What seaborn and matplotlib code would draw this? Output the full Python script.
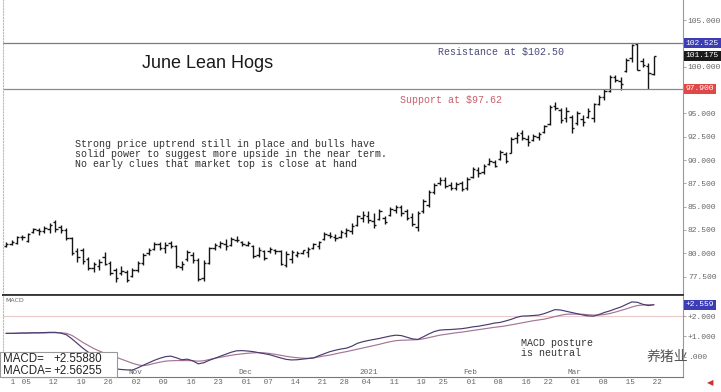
import numpy as np
import pandas as pd
import matplotlib
matplotlib.use('Agg')
import matplotlib.pyplot as plt
import matplotlib.transforms as mtransforms
from matplotlib.patches import Rectangle
import seaborn as sns

# ---- data ----
highs = [81.2, 81.4, 81.9, 82.0, 82.2, 82.7, 82.7, 82.9, 83.2, 83.6,
         83.0, 82.7, 81.8, 80.6, 80.6, 79.6, 79.1, 79.4, 80.1, 79.2,
         78.4, 78.6, 78.2, 78.4, 79.2, 80.0, 80.6, 81.2, 81.2, 81.2,
         81.3, 80.9, 79.2, 80.3, 80.1, 79.5, 79.3, 80.7, 81.1, 81.3,
         81.5, 81.7, 81.9, 81.3, 81.3, 80.9, 80.7, 80.4, 80.7, 80.5,
         80.4, 80.2, 80.4, 80.2, 80.4, 80.7, 81.1, 81.3, 82.3, 82.3,
         82.1, 82.5, 82.7, 83.2, 84.1, 84.5, 84.5, 84.3, 84.7, 84.0,
         85.0, 85.2, 85.2, 84.7, 84.3, 84.5, 85.8, 86.8, 87.5, 88.2,
         88.2, 87.6, 87.6, 87.8, 88.2, 89.3, 89.3, 89.6, 90.2, 90.0,
         91.1, 90.9, 92.5, 93.0, 93.2, 92.7, 92.8, 93.0, 93.8, 95.9,
         96.2, 95.6, 95.7, 94.8, 95.3, 94.8, 95.6, 96.1, 97.0, 97.6,
         99.1, 99.1, 98.9, 100.9, 102.45, 102.5, 100.9, 100.4, 101.2]
lows = [80.7, 80.9, 81.0, 81.4, 81.2, 82.2, 82.0, 82.2, 82.2, 82.3,
        82.2, 81.4, 79.8, 79.1, 78.9, 78.2, 78.0, 78.2, 78.7, 77.7,
        76.9, 77.7, 76.9, 77.5, 78.0, 78.7, 79.8, 80.3, 80.3, 80.0,
        80.6, 78.4, 78.2, 79.2, 79.0, 77.0, 77.0, 78.9, 80.4, 80.6,
        80.4, 80.8, 81.2, 80.8, 80.8, 79.5, 79.6, 79.3, 80.0, 79.9,
        78.7, 78.5, 79.0, 79.6, 79.9, 79.6, 80.5, 80.5, 81.4, 81.6,
        81.3, 81.6, 81.8, 82.1, 82.9, 83.4, 83.2, 82.7, 83.6, 83.1,
        84.0, 84.3, 84.0, 83.6, 82.9, 82.4, 84.3, 85.0, 86.4, 87.3,
        87.0, 86.8, 86.8, 86.7, 86.8, 88.1, 88.2, 88.5, 89.5, 89.2,
        90.0, 89.7, 90.7, 91.8, 92.1, 91.5, 92.0, 92.1, 92.9, 93.8,
        95.4, 94.0, 94.1, 92.9, 93.8, 93.6, 94.5, 94.1, 95.9, 96.4,
        97.3, 98.4, 97.5, 99.4, 100.5, 99.6, 100.0, 97.6, 99.1]
opens = [80.8, 81.0, 81.1, 81.7, 81.3, 82.3, 82.5, 82.4, 82.6, 83.4,
         82.8, 82.5, 81.6, 80.2, 80.4, 79.4, 78.4, 78.6, 79.6, 79.0,
         78.2, 77.9, 78.0, 77.6, 78.2, 79.0, 80.0, 80.5, 81.0, 80.6,
         81.1, 80.8, 78.5, 79.4, 79.8, 79.3, 77.3, 79.0, 80.6, 80.8,
         81.0, 80.9, 81.4, 81.2, 80.9, 80.8, 79.8, 80.2, 80.2, 80.3,
         80.2, 78.7, 79.4, 79.8, 80.0, 80.1, 80.6, 80.8, 81.5, 82.0,
         81.7, 81.8, 82.2, 82.4, 83.0, 83.8, 84.0, 83.5, 83.7, 83.8,
         84.1, 84.6, 85.0, 84.5, 83.9, 82.8, 84.5, 85.2, 86.6, 87.5,
         87.9, 87.3, 87.0, 87.5, 87.0, 88.2, 88.9, 88.7, 89.6, 89.8,
         90.1, 90.6, 90.8, 92.4, 92.9, 92.3, 92.1, 92.5, 93.0, 93.9,
         95.8, 95.4, 94.5, 94.6, 94.0, 94.4, 94.6, 94.5, 96.0, 96.7,
         97.4, 98.9, 98.5, 99.5, 100.9, 102.4, 100.6, 100.1, 99.2]
closes = [81.0, 81.2, 81.7, 81.8, 82.1, 82.6, 82.4, 82.7, 83.0, 82.6,
          82.5, 81.6, 80.0, 79.6, 79.2, 78.4, 78.8, 79.1, 78.9, 77.9,
          77.3, 78.1, 77.1, 78.2, 79.0, 79.8, 80.4, 81.0, 80.6, 80.9,
          80.8, 78.6, 78.8, 80.1, 79.3, 77.2, 79.0, 80.6, 80.9, 81.1,
          80.8, 81.5, 81.4, 81.0, 81.1, 79.7, 80.3, 79.5, 80.5, 80.2,
          78.9, 79.9, 80.1, 80.0, 80.3, 80.5, 81.0, 81.2, 82.1, 81.9,
          81.6, 82.3, 82.5, 82.9, 84.0, 84.1, 83.6, 83.0, 84.5, 83.4,
          84.8, 85.0, 84.3, 83.8, 83.1, 84.3, 85.6, 86.6, 87.3, 87.9,
          87.2, 87.0, 87.4, 86.9, 88.0, 89.0, 88.6, 89.4, 89.9, 89.4,
          90.9, 89.9, 92.2, 92.7, 92.4, 91.9, 92.6, 92.8, 93.6, 95.7,
          95.6, 94.3, 95.2, 93.4, 95.0, 94.1, 95.3, 96.0, 96.8, 97.4,
          98.9, 98.6, 98.1, 100.7, 102.3, 99.7, 100.2, 99.3, 101.175]

macd = [1.15, 1.15, 1.16, 1.17, 1.17, 1.18, 1.18, 1.19, 1.20, 1.20,
        1.16, 1.08, 0.88, 0.65, 0.42, 0.22, 0.02, -0.18, -0.35, -0.50,
        -0.60, -0.63, -0.65, -0.66, -0.55, -0.42, -0.30, -0.18, -0.08, 0.00,
        0.03, -0.05, -0.15, -0.12, -0.20, -0.35, -0.30, -0.18, -0.08, 0.02,
        0.12, 0.22, 0.29, 0.30, 0.28, 0.25, 0.20, 0.15, 0.10, 0.02,
        -0.06, -0.13, -0.16, -0.15, -0.12, -0.09, -0.06, 0.05, 0.15, 0.25,
        0.32, 0.38, 0.42, 0.52, 0.66, 0.74, 0.80, 0.85, 0.90, 0.96,
        1.02, 1.06, 1.04, 0.96, 0.88, 0.85, 0.98, 1.12, 1.24, 1.31,
        1.33, 1.34, 1.36, 1.38, 1.42, 1.47, 1.50, 1.55, 1.60, 1.66,
        1.69, 1.76, 1.84, 1.94, 2.00, 2.01, 2.03, 2.05, 2.12, 2.22,
        2.32, 2.30, 2.24, 2.18, 2.12, 2.06, 2.01, 2.00, 2.08, 2.18,
        2.26, 2.36, 2.45, 2.58, 2.70, 2.68, 2.58, 2.52, 2.5588]
macda = [1.15, 1.15, 1.15, 1.16, 1.16, 1.17, 1.17, 1.17, 1.18, 1.18,
         1.18, 1.15, 1.05, 0.88, 0.70, 0.55, 0.40, 0.28, 0.17, 0.08,
         -0.02, -0.12, -0.22, -0.32, -0.40, -0.44, -0.40, -0.33, -0.27, -0.22,
         -0.20, -0.19, -0.19, -0.19, -0.20, -0.22, -0.20, -0.14, -0.08, -0.03,
         0.02, 0.07, 0.11, 0.14, 0.17, 0.19, 0.20, 0.19, 0.16, 0.12,
         0.07, 0.02, -0.02, -0.05, -0.07, -0.08, -0.06, -0.01, 0.04, 0.08,
         0.14, 0.20, 0.25, 0.31, 0.37, 0.43, 0.49, 0.55, 0.61, 0.68,
         0.74, 0.79, 0.81, 0.82, 0.83, 0.84, 0.88, 0.94, 1.00, 1.06,
         1.10, 1.14, 1.18, 1.21, 1.25, 1.29, 1.33, 1.37, 1.41, 1.45,
         1.48, 1.52, 1.57, 1.62, 1.67, 1.72, 1.77, 1.81, 1.85, 1.91,
         1.98, 2.04, 2.09, 2.10, 2.10, 2.09, 2.07, 2.05, 2.05, 2.08,
         2.13, 2.20, 2.28, 2.36, 2.45, 2.52, 2.55, 2.56, 2.56255]

holidays = ['2020-11-26', '2020-12-25', '2021-01-01', '2021-01-18', '2021-02-15']
tick_dates = ['2020-10-01', '2020-10-05', '2020-10-12', '2020-10-19', '2020-10-26',
              '2020-11-02', '2020-11-09', '2020-11-16', '2020-11-23', '2020-12-01',
              '2020-12-07', '2020-12-14', '2020-12-21', '2020-12-28', '2021-01-04',
              '2021-01-11', '2021-01-19', '2021-01-25', '2021-02-01', '2021-02-08',
              '2021-02-16', '2021-02-22', '2021-03-01', '2021-03-08', '2021-03-15',
              '2021-03-22']
tick_labels = ['1', '05', '12', '19', '26', '02', '09', '16', '23', '01', '07', '14',
               '21', '28', '04', '11', '19', '25', '01', '08', '16', '22', '01', '08',
               '15', '22']
month_dates = ['2020-11-02', '2020-12-01', '2021-01-04', '2021-02-01', '2021-03-01']
month_labels = ['Nov', 'Dec', '2021', 'Feb', 'Mar']
price_ticks = [77.5, 80.0, 82.5, 85.0, 87.5, 90.0, 92.5, 95.0, 100.0, 105.0]
macd_ticks = [0.0, 1.0, 2.0]
macd_tick_labels = ['.000', '+1.000', '+2.000']
resistance = 102.50
support = 97.62
last_price = 101.175

days = pd.bdate_range('2020-10-01', '2021-03-23', freq='C', holidays=holidays)
df = pd.DataFrame({'date': days, 'open': opens, 'high': highs, 'low': lows,
                   'close': closes, 'macd': macd, 'macda': macda})
df['idx'] = np.arange(len(df))
pos = {d: i for i, d in enumerate(df['date'])}
tick_idx = [pos[pd.Timestamp(d)] for d in tick_dates]
month_idx = [pos[pd.Timestamp(d)] for d in month_dates]

sns.set_style('white')
plt.rcParams['font.family'] = ['DejaVu Sans', 'Noto Sans CJK SC']

W, H = 721, 392
fig = plt.figure(figsize=(W / 100, H / 100), dpi=100)

def fx(px):
    return px / W

def fy(py):
    return 1 - py / H

ax = fig.add_axes([fx(3), fy(295), fx(680), 295 / H])
ax2 = fig.add_axes([fx(3), fy(377), fx(680), 82 / H])

xlim = (-0.55, 123.3)
gray = '#666666'
mono = 'Liberation Mono'
note_size = 7.2

# ---- price bars ----
x = df['idx'].values
ax.vlines(x, df['low'], df['high'], color='#151515', lw=1.0)
ax.hlines(df['open'], x - 0.45, x, color='#151515', lw=1.0)
ax.hlines(df['close'], x, x + 0.45, color='#151515', lw=1.0)
ax.axhline(resistance, color='#7a7a7a', lw=0.9)
ax.axhline(support, color='#8a8a8a', lw=0.9)
ax.set_xlim(*xlim)
ax.set_ylim(75.53, 107.15)
ax.set_xticks([])
ax.yaxis.tick_right()
ax.set_yticks(price_ticks)
ax.set_yticklabels([f'{v:.3f}' for v in price_ticks], fontsize=5.8, color=gray,
                   family=mono)
ax.tick_params(axis='y', length=2, width=0.6, color='#999999', pad=1.5)
ax.spines['top'].set_visible(False)
ax.spines['left'].set_color('#bbbbbb')
ax.spines['left'].set_linestyle(':')
ax.spines['right'].set_color('#999999')
ax.spines['bottom'].set_color('#333333')
ax.spines['bottom'].set_linewidth(1.3)

bt = mtransforms.blended_transform_factory(ax.transAxes, ax.transData)
ax.text(1.004, resistance, '102.525', transform=bt, fontsize=5.8, family=mono,
        color='white', va='center', ha='left',
        bbox=dict(boxstyle='square,pad=0.2', fc='#3c3cb4', ec='none'))
ax.text(1.004, last_price, '101.175', transform=bt, fontsize=5.8, family=mono,
        color='white', va='center', ha='left',
        bbox=dict(boxstyle='square,pad=0.2', fc='#1a1a1a', ec='none'))
ax.text(1.004, support, '97.900', transform=bt, fontsize=5.8, family=mono,
        color='white', va='center', ha='left',
        bbox=dict(boxstyle='square,pad=0.2', fc='#e04848', ec='none'))

# ---- MACD panel ----
ax2.axhline(2.0, color='#e8caca', lw=0.8)
sns.lineplot(data=df, x='idx', y='macda', ax=ax2, color='#a57595', lw=0.85)
sns.lineplot(data=df, x='idx', y='macd', ax=ax2, color='#4a3a6e', lw=0.85)
ax2.set_xlim(*xlim)
ax2.set_ylim(-1.0, 3.04)
ax2.set_xlabel('')
ax2.set_ylabel('')
ax2.yaxis.tick_right()
ax2.set_yticks(macd_ticks)
ax2.set_yticklabels(macd_tick_labels, fontsize=5.8, color=gray, family=mono)
ax2.tick_params(axis='y', length=2, width=0.6, color='#999999', pad=1.5)
ax2.set_xticks(tick_idx)
ax2.set_xticklabels([' ' + t for t in tick_labels], fontsize=5.5, color=gray,
                    family=mono, ha='left')
ax2.tick_params(axis='x', length=7, width=0.6, color='#888888', pad=-5.5,
                direction='out')
ax2.spines['top'].set_color('#333333')
ax2.spines['top'].set_linewidth(1.3)
ax2.spines['left'].set_color('#bbbbbb')
ax2.spines['left'].set_linestyle(':')
ax2.spines['right'].set_color('#999999')
ax2.spines['bottom'].set_color('#777777')
bt2 = mtransforms.blended_transform_factory(ax2.transData, ax2.transAxes)
for mi, ml in zip(month_idx, month_labels):
    ax2.text(mi + 0.3, 0.01, ml, transform=bt2, fontsize=5.5, color=gray,
             family=mono, ha='left', va='bottom')
bt3 = mtransforms.blended_transform_factory(ax2.transAxes, ax2.transData)
ax2.text(1.004, macd[-1], '+2.559', transform=bt3, fontsize=5.8, family=mono,
         color='white', va='center', ha='left',
         bbox=dict(boxstyle='square,pad=0.2', fc='#3c3cb4', ec='none'))
ax2.text(0.003, 0.93, 'MACD', transform=ax2.transAxes, fontsize=4.5,
         color=gray, va='center', ha='left')

# ---- annotations ----
fig.text(fx(208), fy(64), 'June Lean Hogs', fontsize=13, family='Liberation Sans',
         ha='center', va='center', color='#1a1a1a')
fig.text(fx(438), fy(52), 'Resistance at $102.50', fontsize=note_size, family=mono,
         color='#4a4a7a', va='center')
fig.text(fx(400), fy(100), 'Support at $97.62', fontsize=note_size, family=mono,
         color='#c8606e', va='center')
para = ['Strong price uptrend still in place and bulls have',
        'solid power to suggest more upside in the near term.',
        'No early clues that market top is close at hand']
for i, line in enumerate(para):
    fig.text(fx(75), fy(144 + 10 * i), line, fontsize=note_size, family=mono,
             color='#333333', va='center')
fig.text(fx(521), fy(343), 'MACD posture', fontsize=note_size, family=mono,
         color='#333333', va='center')
fig.text(fx(521), fy(353), 'is neutral', fontsize=note_size, family=mono,
         color='#333333', va='center')

box = Rectangle((fx(0), fy(377)), fx(117), 25 / H, transform=fig.transFigure,
                fc='white', ec='#999999', lw=0.8, zorder=5)
fig.add_artist(box)
fig.text(fx(3), fy(359), 'MACD=', fontsize=8.3, family='Liberation Sans',
         color='#222222', va='center', zorder=6)
fig.text(fx(53), fy(359), '+2.55880', fontsize=8.3, family='Liberation Sans',
         color='#222222', va='center', zorder=6)
fig.text(fx(3), fy(371), 'MACDA=', fontsize=8.3, family='Liberation Sans',
         color='#222222', va='center', zorder=6)
fig.text(fx(53), fy(371), '+2.56255', fontsize=8.3, family='Liberation Sans',
         color='#222222', va='center', zorder=6)

fig.text(fx(667), fy(357), '养猪业', fontsize=10, family=['Noto Sans CJK SC'],
         color='#555555', ha='center', va='center', zorder=6)
fig.text(fx(710), fy(383), '◀', fontsize=6, color='#d03030', ha='center',
         va='center')

fig.savefig('out.png', dpi=100, facecolor='white')
